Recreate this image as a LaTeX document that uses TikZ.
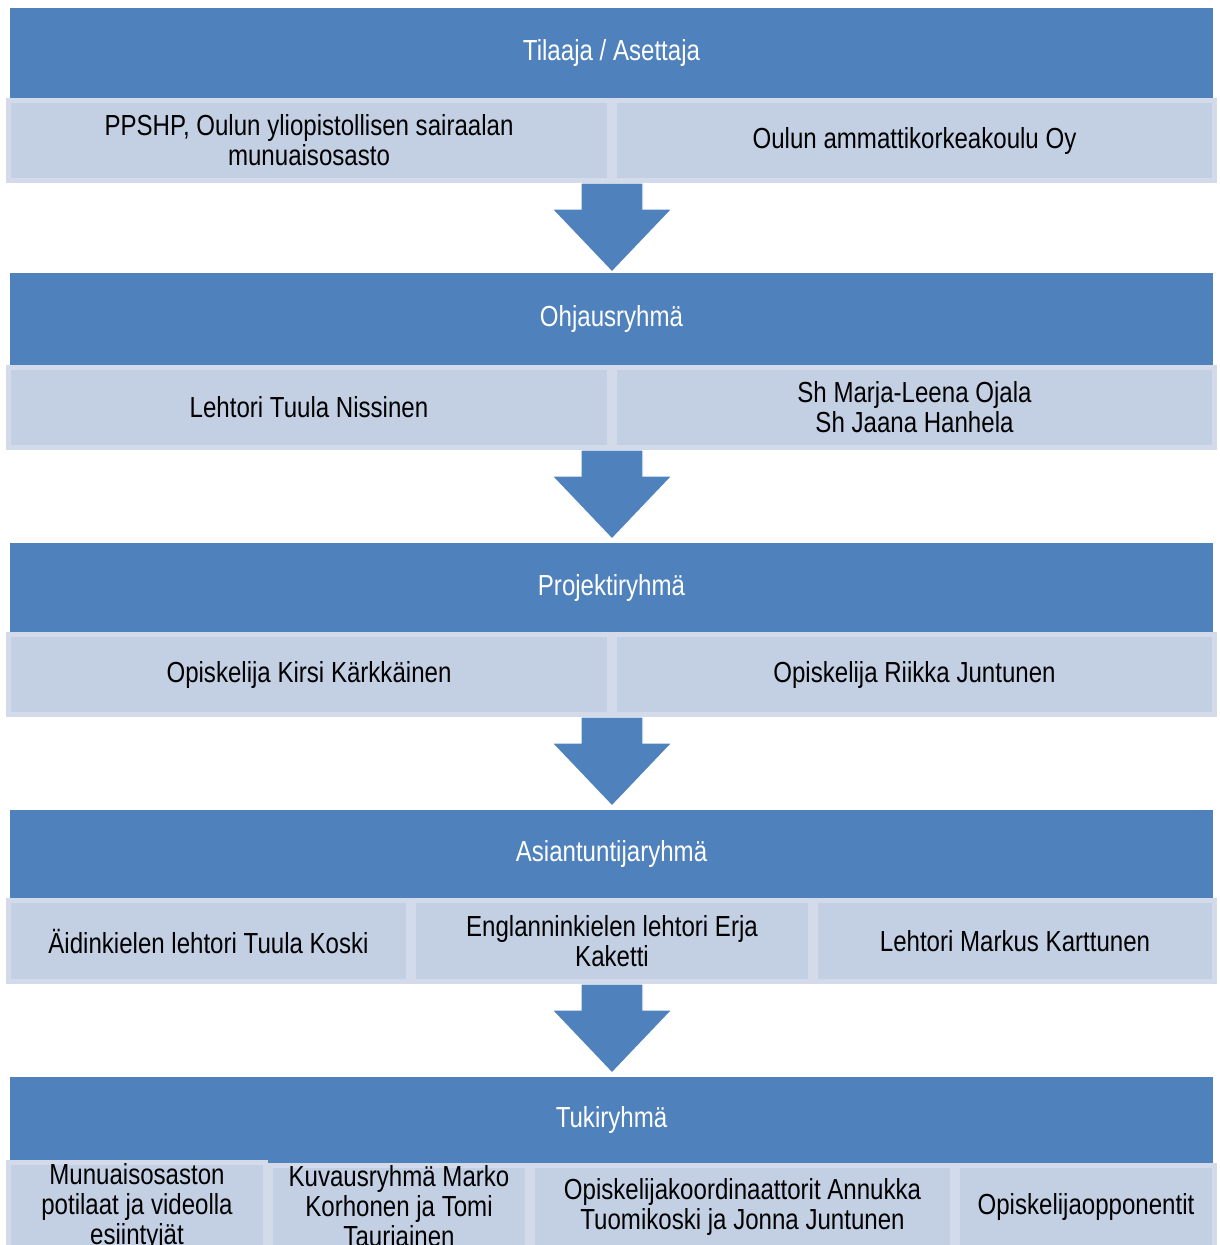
\documentclass[tikz,border=0pt]{standalone}
\usepackage{fontspec}
\setmainfont{Liberation Sans}[FakeStretch=0.83]
\definecolor{dblue}{HTML}{4F81BD}
\definecolor{lfill}{HTML}{C3CFE3}
\definecolor{lborder}{HTML}{D3DAEA}
\tikzset{
  hdr/.style={fill=dblue, draw=none, inner sep=0pt, minimum width=1203pt, text=white,
    font=\fontsize{29}{30}\selectfont, align=center},
  cellbox/.style={fill=lfill, draw=lborder, line width=5pt, inner sep=0pt, text=black,
    font=\fontsize{29}{30}\selectfont, align=center},
  flowarrow/.style={fill=dblue, draw=white, line width=1.2pt, line join=miter}
}
\newcommand\hdrnode[4]{\node[hdr, minimum height={#3pt-#2pt}] (#1) at (611.5,{(#2+#3)/2}) {#4};}
\newcommand\cellnode[6]{\node[cellbox, minimum width={#3pt-#2pt-5pt}, minimum height={#5pt-#4pt-5pt}] (#1) at ({(#2+#3)/2},{(#4+#5)/2}) {#6};}
\newcommand\downarrowshape[1]{\path[flowarrow] (581,#1) -- (581,{#1+26}) -- (552,{#1+26}) -- (612,{#1+89}) -- (672,{#1+26}) -- (643,{#1+26}) -- (643,#1) -- cycle;}
\begin{document}
\begin{tikzpicture}[x=1pt,y=-1pt]
\useasboundingbox (0,0) rectangle (1219,1245);
\clip (0,0) rectangle (1219,1245);
\fill[white] (0,0) rectangle (1219,1245);
% headers
\hdrnode{h1}{8}{98}{Tilaaja / Asettaja}
\hdrnode{h2}{273}{365}{Ohjausryhmä}
\hdrnode{h3}{543}{632}{Projektiryhmä}
\hdrnode{h4}{810}{898}{Asiantuntijaryhmä}
\hdrnode{h5}{1077}{1163}{Tukiryhmä}
% arrows
\downarrowshape{183}
\downarrowshape{450}
\downarrowshape{717}
\downarrowshape{984}
% row 1
\cellnode{r1a}{6}{612}{98}{183}{PPSHP, Oulun yliopistollisen sairaalan\\munuaisosasto}
\cellnode{r1b}{612}{1217}{98}{183}{Oulun ammattikorkeakoulu Oy}
% row 2
\cellnode{r2a}{6}{612}{365}{450}{Lehtori Tuula Nissinen}
\cellnode{r2b}{612}{1217}{365}{450}{Sh Marja-Leena Ojala\\Sh Jaana Hanhela}
% row 3
\cellnode{r3a}{6}{612}{632}{717}{Opiskelija Kirsi Kärkkäinen}
\cellnode{r3b}{612}{1217}{632}{717}{Opiskelija Riikka Juntunen}
% row 4
\cellnode{r4a}{6}{411}{898}{984}{Äidinkielen lehtori Tuula Koski}
\cellnode{r4b}{411}{813}{898}{984}{Englanninkielen lehtori Erja\\Kaketti}
\cellnode{r4c}{813}{1217}{898}{984}{Lehtori Markus Karttunen}
% row 5
\cellnode{r5a}{6}{268}{1163}{1250}{Munuaisosaston\\potilaat ja videolla\\esiintyjät}
\cellnode{r5b}{268}{530}{1163}{1250}{Kuvausryhmä Marko\\Korhonen ja Tomi\\Tauriainen}
\cellnode{r5c}{530}{955}{1163}{1250}{Opiskelijakoordinaattorit Annukka\\Tuomikoski ja Jonna Juntunen}
\cellnode{r5d}{955}{1217}{1163}{1250}{Opiskelijaopponentit}
\end{tikzpicture}
\end{document}
